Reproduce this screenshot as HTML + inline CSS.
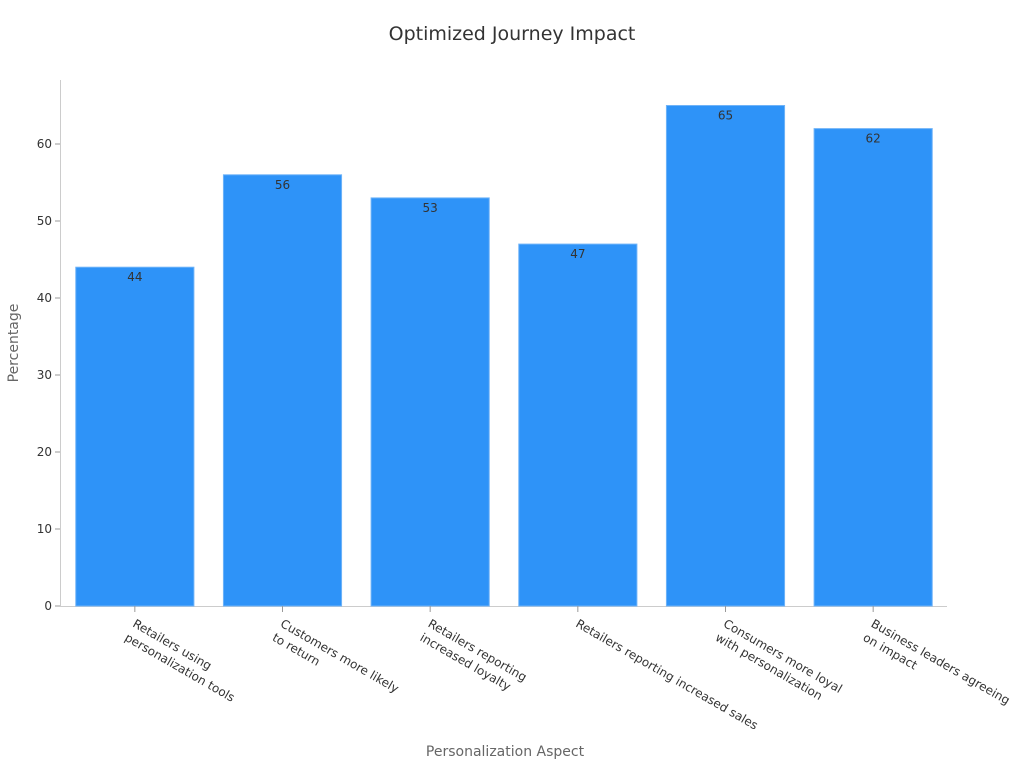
<!DOCTYPE html>
<html><head><meta charset="utf-8"><style>
body{margin:0;background:#fff;}
svg{display:block;font-family:"DejaVu Sans","Liberation Sans",sans-serif;}
</style></head><body>
<svg id="chart" width="1024" height="768" viewBox="0 0 1024 768">
<text x="512" y="40" text-anchor="middle" font-size="19" fill="#333">Optimized Journey Impact</text>
<text transform="translate(18,343) rotate(-90)" text-anchor="middle" font-size="14" fill="#666">Percentage</text>
<text x="505" y="756" text-anchor="middle" font-size="14" fill="#666">Personalization Aspect</text>
<g id="plot"></g>
</svg>
<script>
const categories=[["Retailers using","personalization tools"],["Customers more likely","to return"],["Retailers reporting","increased loyalty"],["Retailers reporting increased sales"],["Consumers more loyal","with personalization"],["Business leaders agreeing","on impact"]];
const values=[44,56,53,47,65,62];
const yTicks=[0,10,20,30,40,50,60];
const NS="http://www.w3.org/2000/svg";
const X0=61,X1=947,Y0=606,YTOP=80;
const yScale=v=>Y0-v*(462/60);
const band=(X1-X0)/categories.length;
const xCenter=i=>X0+band*(i+0.5);
const g=document.getElementById('plot');
function mk(t,a){const e=document.createElementNS(NS,t);for(const k in a)e.setAttribute(k,a[k]);return e;}
const yAxis=mk('line',{x1:60.5,x2:60.5,y1:YTOP,y2:Y0,stroke:'#ccc'});


g.appendChild(yAxis);
const xAxis=mk('line',{x1:60,x2:X1,y1:Y0+0.5,y2:Y0+0.5,stroke:'#ccc'});


g.appendChild(xAxis);
yTicks.forEach(v=>{
const y=yScale(v);
const tk=mk('line',{x1:55,x2:60,y1:y,y2:y,stroke:'#999'});


g.appendChild(tk);
const t=mk('text',{x:52,y:y+4,'text-anchor':'end','font-size':12,fill:'#333'});
t.textContent=v;


g.appendChild(t);
});
const bw=band*0.8;
values.forEach((v,i)=>{
const cx=xCenter(i),top=yScale(v);
const r=mk('rect',{x:cx-bw/2,y:top,width:bw,height:Y0-top,fill:'#2E93F8',stroke:'#6FB3F8','stroke-width':1});


g.appendChild(r);
const l=mk('text',{x:cx,y:top+14,'text-anchor':'middle','font-size':12,fill:'#333'});
l.textContent=v;


g.appendChild(l);
const tk=mk('line',{x1:cx,x2:cx,y1:Y0,y2:Y0+6,stroke:'#999'});


g.appendChild(tk);
const t=mk('text',{transform:`translate(${cx-3},${Y0+20}) rotate(30)`,'font-size':12,fill:'#333'});


categories[i].forEach((line,j)=>{
const s=mk('tspan',{x:0,y:j*16});
s.textContent=line;
t.appendChild(s);
});
g.appendChild(t);
});
</script>
</body></html>
